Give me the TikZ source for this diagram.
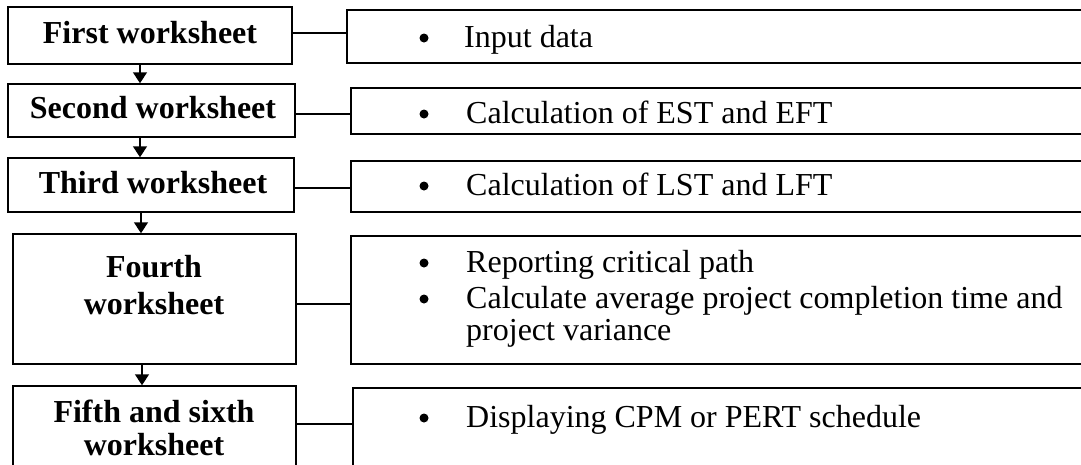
\documentclass[tikz,border=0pt]{standalone}
\usepackage{fontspec}
\setmainfont{Liberation Serif}
\usetikzlibrary{arrows.meta}
\begin{document}
\begin{tikzpicture}[x=1pt,y=-1pt,
  box/.style={draw, line width=1.5pt, inner sep=0pt, rectangle},
  flow/.style={line width=1.5pt, -{Triangle[width=14pt,length=11pt]}},
  link/.style={line width=1.5pt},
  stagetext/.style={font=\fontsize{32}{38}\selectfont\bfseries, anchor=base, inner sep=0pt},
  tasktext/.style={font=\fontsize{32}{38}\selectfont, anchor=base west, inner sep=0pt},
  bul/.style={circle, fill, inner sep=0pt, minimum size=9pt}]
\path[use as bounding box, clip] (0,0) rectangle (1081,464);

% worksheet boxes (left column)
\node[box, minimum width=284pt, minimum height=57pt] (l1) at (150,35.5) {};
\node[box, minimum width=287pt, minimum height=53pt] (l2) at (151.5,110.5) {};
\node[box, minimum width=286pt, minimum height=54pt] (l3) at (151,185) {};
\node[box, minimum width=283pt, minimum height=130pt] (l4) at (154.5,299) {};
\node[box, minimum width=283pt, minimum height=110pt] (l5) at (154.5,441) {};

% task boxes (right column)
\node[box, minimum width=773pt, minimum height=53pt] (r1) at (733.5,36.5) {};
\node[box, minimum width=769pt, minimum height=46pt] (r2) at (735.5,111) {};
\node[box, minimum width=769pt, minimum height=51pt] (r3) at (735.5,186.5) {};
\node[box, minimum width=769pt, minimum height=128pt] (r4) at (735.5,300) {};
\node[box, minimum width=767pt, minimum height=112pt] (r5) at (736.5,444) {};

% worksheet titles
\node[stagetext] (t1) at (150,43) {First worksheet};
\node[stagetext] (t2) at (153,118) {Second worksheet};
\node[stagetext] (t3) at (153,193) {Third worksheet};
\node[stagetext] (t4a) at (154,277) {Fourth};
\node[stagetext] (t4b) at (154,314) {worksheet};
\node[stagetext] (t5a) at (154,422) {Fifth and sixth};
\node[stagetext] (t5b) at (154,455) {worksheet};

% task descriptions
\node[bul] (b1) at (424,38) {};
\node[tasktext] (d1) at (464,47) {Input data};
\node[bul] (b2) at (424,114) {};
\node[tasktext] (d2) at (466,123) {Calculation of EST and EFT};
\node[bul] (b3) at (424,186) {};
\node[tasktext] (d3) at (466,195) {Calculation of LST and LFT};
\node[bul] (b4a) at (424,263) {};
\node[tasktext] (d4a) at (466,272) {Reporting critical path};
\node[bul] (b4b) at (424,299) {};
\node[tasktext] (d4b) at (466,308) {Calculate average project completion time and};
\node[tasktext] (d4c) at (466,340) {project variance};
\node[bul] (b5) at (424,418) {};
\node[tasktext] (d5) at (466,427) {Displaying CPM or PERT schedule};

% connectors between the columns
\draw[link] (l1.east |- 0,33) -- (r1.west |- 0,33);
\draw[link] (l2.east |- 0,114) -- (r2.west |- 0,114);
\draw[link] (l3.east |- 0,188) -- (r3.west |- 0,188);
\draw[link] (l4.east |- 0,304) -- (r4.west |- 0,304);
\draw[link] (l5.east |- 0,424) -- (r5.west |- 0,424);

% flow between worksheets
\draw[flow] (l1.south -| 140,0) -- (l2.north -| 140,0);
\draw[flow] (l2.south -| 140,0) -- (l3.north -| 140,0);
\draw[flow] (l3.south -| 141,0) -- (l4.north -| 141,0);
\draw[flow] (l4.south -| 142,0) -- (l5.north -| 142,0);
\end{tikzpicture}
\end{document}
